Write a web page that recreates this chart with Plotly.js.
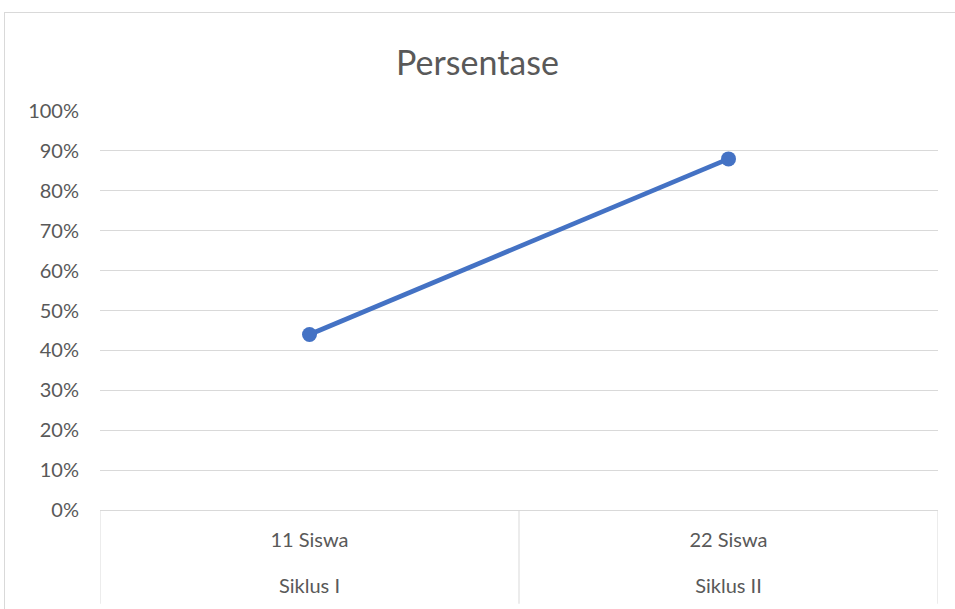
<!DOCTYPE html>
<html>
<head>
<meta charset="utf-8">
<script src="https://cdn.plot.ly/plotly-3.0.1.min.js"></script>
<style>
  html, body { margin: 0; padding: 0; background: #ffffff; }
  #wrap { position: relative; width: 955px; height: 609px; overflow: hidden; }
  #frame { position: absolute; left: 4px; top: 12px; width: 1000px; height: 700px;
           border-left: 1px solid #d9d9d9; border-top: 1px solid #d9d9d9; box-sizing: border-box; pointer-events: none; }
  #chart { position: absolute; left: 0; top: 0; width: 955px; height: 609px; }
</style>
</head>
<body>
<div id="wrap">
  <div id="chart"></div>
  <div id="frame"></div>
</div>
<script>
const chartTitle = "Persentase";
const outerCategories = ["Siklus I", "Siklus II"];
const innerCategories = ["11 Siswa", "22 Siswa"];
const persentase = [0.44, 0.88];

const FONT = "Lato, 'Open Sans', sans-serif";

const span = t => "<span style='font-size:20px'>" + t + "</span>";
const tickText = innerCategories.map((c, i) => span(c) + "<br><br>" + span(outerCategories[i]));

// divider lines between category groups (below the axis), placed via the x axis scale
const dividerShapes = [];
for (let i = 0; i <= innerCategories.length; i++) {
  dividerShapes.push({
    type: "line", xref: "x", yref: "paper",
    x0: i - 0.5, x1: i - 0.5, y0: 0, y1: -0.235,
    line: { color: "#d9d9d9", width: 1 }
  });
}

const trace = {
  type: "scatter",
  mode: "lines+markers",
  x: innerCategories,
  y: persentase,
  line: { color: "#4472c4", width: 4.75 },
  marker: { color: "#4472c4", size: 15 },
  hoverinfo: "skip",
  showlegend: false
};

const layout = {
  width: 955,
  height: 609,
  paper_bgcolor: "#ffffff",
  plot_bgcolor: "#ffffff",
  margin: { l: 100, r: 17, t: 111, b: 99 },
  font: { family: FONT, color: "#595959", size: 18 },
  title: {
    text: chartTitle,
    font: { family: FONT, size: 34, color: "#595959" },
    x: 0.5, xref: "container", xanchor: "center",
    y: 1 - 63 / 609, yref: "container", yanchor: "middle"
  },
  shapes: dividerShapes,
  xaxis: {
    type: "category",
    range: [-0.5, innerCategories.length - 0.5],
    tickvals: innerCategories,
    ticktext: tickText,
    showgrid: false,
    zeroline: false,
    showline: true,
    linecolor: "#d9d9d9",
    linewidth: 1,
    ticks: "",
    ticklabelstandoff: 15,
    tickfont: { family: FONT, size: 17.7, color: "#595959" },
    fixedrange: true
  },
  yaxis: {
    range: [0, 1],
    dtick: 0.1,
    tick0: 0,
    tickformat: ".0%",
    showgrid: true,
    gridcolor: "#d9d9d9",
    gridwidth: 1,
    zeroline: false,
    showline: false,
    ticks: "",
    ticklabelstandoff: 20,
    tickfont: { family: FONT, size: 20, color: "#595959" },
    fixedrange: true
  }
};

Plotly.newPlot("chart", [trace], layout, { displayModeBar: false, staticPlot: true });
</script>
</body>
</html>
